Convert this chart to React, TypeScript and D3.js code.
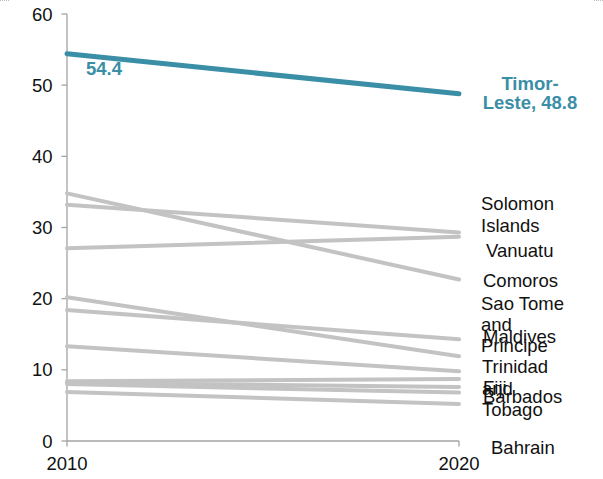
import React from "react";
import * as d3 from "d3";

const years = [2010, 2020];
const yTicks = [0, 10, 20, 30, 40, 50, 60];
const xTicks = [2010, 2020];

const highlightName = "Timor-Leste";
const highlight2010 = 54.4;
const highlight2020 = 48.8;

const countries = [
  "Comoros",
  "Solomon Islands",
  "Vanuatu",
  "Sao Tome and Principe",
  "Maldives",
  "Trinidad and Tobago",
  "Fiji",
  "Barbados",
  "Other",
  "Bahrain",
];
const values2010 = [34.8, 33.2, 27.1, 20.2, 18.4, 13.3, 8.4, 8.2, 8.0, 6.9];
const values2020 = [22.7, 29.3, 28.7, 11.9, 14.3, 9.8, 8.7, 7.6, 6.8, 5.2];

// label layout (pixel placement of end labels, as in the reference)
const LABEL_LAYOUT: { name: string; lines: string[]; x: number; y: number; lh: number }[] = [
  { name: "Solomon Islands", lines: ["Solomon", "Islands"], x: 481, y: 209.5, lh: 22 },
  { name: "Vanuatu", lines: ["Vanuatu"], x: 486, y: 256.5, lh: 0 },
  { name: "Comoros", lines: ["Comoros"], x: 483, y: 287, lh: 0 },
  { name: "Sao Tome and Principe", lines: ["Sao Tome", "and", "Principe"], x: 481, y: 310, lh: 21 },
  { name: "Maldives", lines: ["Maldives"], x: 483, y: 342.5, lh: 0 },
  { name: "Trinidad and Tobago", lines: ["Trinidad", "and", "Tobago"], x: 482, y: 373, lh: 21.5 },
  { name: "Fiji", lines: ["Fiji"], x: 483, y: 393.5, lh: 0 },
  { name: "Barbados", lines: ["Barbados"], x: 483, y: 403, lh: 0 },
  { name: "Bahrain", lines: ["Bahrain"], x: 491, y: 454, lh: 0 },
];

const W = 603;
const H = 479;
const FONT = "'Liberation Sans', Arial, sans-serif";
const TEAL = "#3a8ea6";
const GRAY = "#c3c3c3";
const AXIS = "#a3a3a3";

export default function App() {
  const x = d3.scaleLinear().domain([2010, 2020]).range([67, 459]);
  const y = d3.scaleLinear().domain([0, 60]).range([441, 14]);
  const line = d3
    .line<[number, number]>()
    .x((d) => x(d[0]))
    .y((d) => y(d[1]));

  const series = countries.map((c, i) => ({
    name: c,
    pts: [
      [years[0], values2010[i]],
      [years[1], values2020[i]],
    ] as [number, number][],
  }));

  return (
    <svg
      width={W}
      height={H}
      style={{ position: "absolute", left: 0, top: 0, background: "#fff" }}
      fontFamily={FONT}
    >
      <line x1={0} y1={0.5} x2={10} y2={0.5} stroke="#bbb" strokeDasharray="1,1" />
      <line x1={594} y1={0.5} x2={603} y2={0.5} stroke="#bbb" strokeDasharray="1,1" />

      {/* axes */}
      <line x1={x(2010)} y1={y(60)} x2={x(2010)} y2={y(0)} stroke={AXIS} strokeWidth={1.3} />
      <line x1={x(2010)} y1={y(0)} x2={x(2020)} y2={y(0)} stroke={AXIS} strokeWidth={1.3} />
      {yTicks.map((t) => (
        <g key={"y" + t}>
          <line x1={x(2010) - 5.5} x2={x(2010)} y1={y(t)} y2={y(t)} stroke={AXIS} strokeWidth={1.3} />
          <text
            x={52.5}
            y={y(t)}
            dy="0.36em"
            textAnchor="end"
            fontSize={18.5}
            fill="#111"
          >
            {t}
          </text>
        </g>
      ))}
      {xTicks.map((t) => (
        <g key={"x" + t}>
          <line x1={x(t)} x2={x(t)} y1={y(0)} y2={y(0) + 5.5} stroke={AXIS} strokeWidth={1.3} />
          <text x={x(t)} y={470} textAnchor="middle" fontSize={18.5} fill="#111">
            {t}
          </text>
        </g>
      ))}

      {/* gray lines */}
      {series.map((s) => (
        <path
          key={s.name}
          d={line(s.pts) || ""}
          fill="none"
          stroke={GRAY}
          strokeWidth={4}
          strokeLinecap="round"
        />
      ))}

      {/* highlight */}
      <path
        d={
          line([
            [years[0], highlight2010],
            [years[1], highlight2020],
          ]) || ""
        }
        fill="none"
        stroke={TEAL}
        strokeWidth={5}
        strokeLinecap="round"
      />
      <text x={86} y={75} fontSize={18.5} fontWeight="bold" fill={TEAL}>
        {d3.format(".1f")(highlight2010)}
      </text>
      <text x={530} y={90} textAnchor="middle" fontSize={18.5} fontWeight="bold" fill={TEAL}>
        <tspan x={530}>{highlightName.split("-")[0] + "-"}</tspan>
        <tspan x={530} dy={18.5}>
          {highlightName.split("-")[1] + ", " + d3.format(".1f")(highlight2020)}
        </tspan>
      </text>

      {/* end labels */}
      {LABEL_LAYOUT.map((l) => (
        <text key={l.name} x={l.x} y={l.y} fontSize={18.5} fill="#111">
          {l.lines.map((ln, i) => (
            <tspan key={i} x={l.x} dy={i === 0 ? 0 : l.lh}>
              {ln}
            </tspan>
          ))}
        </text>
      ))}
    </svg>
  );
}
